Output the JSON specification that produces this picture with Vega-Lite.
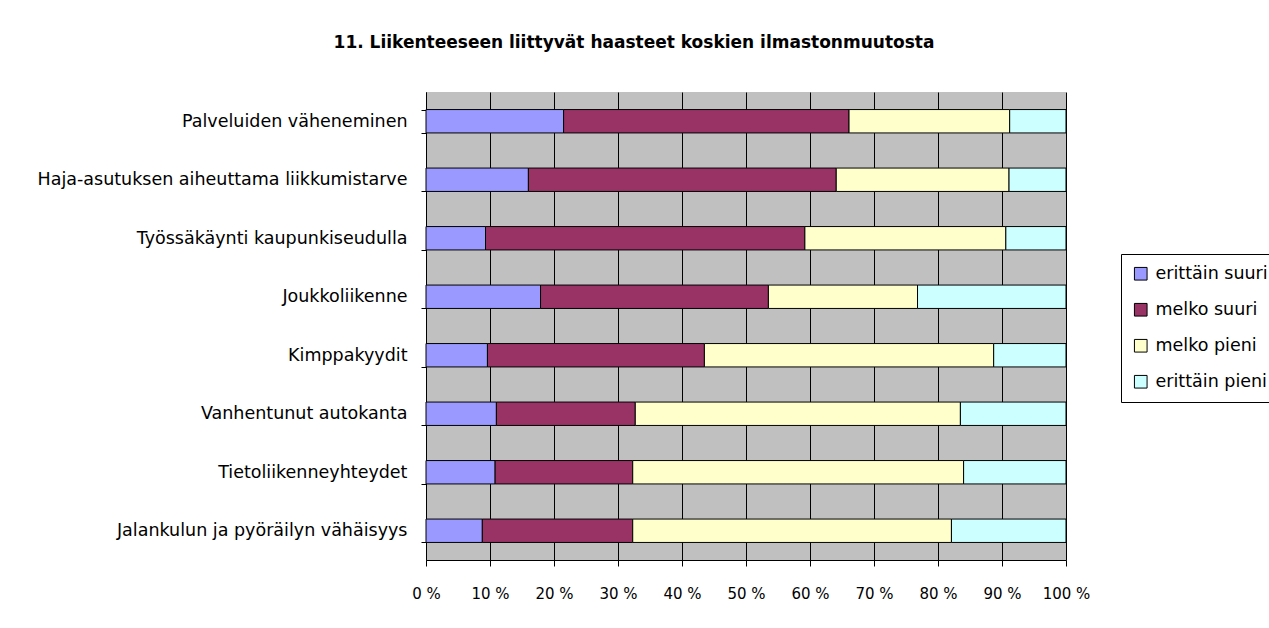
{
  "$schema": "https://vega.github.io/schema/vega-lite/v6.json",
  "autosize": "none",
  "width": 640,
  "height": 468,
  "padding": {"left": 426, "top": 92, "right": 203, "bottom": 68},
  "background": "white",
  "title": {
    "text": "11. Liikenteeseen liittyvät haasteet koskien ilmastonmuutosta",
    "font": "DejaVu Sans",
    "fontSize": 17,
    "fontWeight": "bold",
    "color": "black",
    "anchor": "middle",
    "frame": "group",
    "dx": -112,
    "offset": 31
  },
  "config": {
    "view": {"fill": "#C0C0C0", "stroke": null},
    "font": "DejaVu Sans"
  },
  "data": {
    "values": [
      {"cat": "Palveluiden väheneminen", "level": "erittäin suuri", "k": 1, "v": 21.5},
      {"cat": "Palveluiden väheneminen", "level": "melko suuri", "k": 2, "v": 44.6},
      {"cat": "Palveluiden väheneminen", "level": "melko pieni", "k": 3, "v": 25.1},
      {"cat": "Palveluiden väheneminen", "level": "erittäin pieni", "k": 4, "v": 8.8},
      {"cat": "Haja-asutuksen aiheuttama liikkumistarve", "level": "erittäin suuri", "k": 1, "v": 16.0},
      {"cat": "Haja-asutuksen aiheuttama liikkumistarve", "level": "melko suuri", "k": 2, "v": 48.1},
      {"cat": "Haja-asutuksen aiheuttama liikkumistarve", "level": "melko pieni", "k": 3, "v": 27.0},
      {"cat": "Haja-asutuksen aiheuttama liikkumistarve", "level": "erittäin pieni", "k": 4, "v": 8.9},
      {"cat": "Työssäkäynti kaupunkiseudulla", "level": "erittäin suuri", "k": 1, "v": 9.3},
      {"cat": "Työssäkäynti kaupunkiseudulla", "level": "melko suuri", "k": 2, "v": 49.9},
      {"cat": "Työssäkäynti kaupunkiseudulla", "level": "melko pieni", "k": 3, "v": 31.4},
      {"cat": "Työssäkäynti kaupunkiseudulla", "level": "erittäin pieni", "k": 4, "v": 9.4},
      {"cat": "Joukkoliikenne", "level": "erittäin suuri", "k": 1, "v": 17.9},
      {"cat": "Joukkoliikenne", "level": "melko suuri", "k": 2, "v": 35.6},
      {"cat": "Joukkoliikenne", "level": "melko pieni", "k": 3, "v": 23.3},
      {"cat": "Joukkoliikenne", "level": "erittäin pieni", "k": 4, "v": 23.2},
      {"cat": "Kimppakyydit", "level": "erittäin suuri", "k": 1, "v": 9.6},
      {"cat": "Kimppakyydit", "level": "melko suuri", "k": 2, "v": 33.9},
      {"cat": "Kimppakyydit", "level": "melko pieni", "k": 3, "v": 45.2},
      {"cat": "Kimppakyydit", "level": "erittäin pieni", "k": 4, "v": 11.3},
      {"cat": "Vanhentunut autokanta", "level": "erittäin suuri", "k": 1, "v": 11.0},
      {"cat": "Vanhentunut autokanta", "level": "melko suuri", "k": 2, "v": 21.7},
      {"cat": "Vanhentunut autokanta", "level": "melko pieni", "k": 3, "v": 50.8},
      {"cat": "Vanhentunut autokanta", "level": "erittäin pieni", "k": 4, "v": 16.5},
      {"cat": "Tietoliikenneyhteydet", "level": "erittäin suuri", "k": 1, "v": 10.8},
      {"cat": "Tietoliikenneyhteydet", "level": "melko suuri", "k": 2, "v": 21.5},
      {"cat": "Tietoliikenneyhteydet", "level": "melko pieni", "k": 3, "v": 51.7},
      {"cat": "Tietoliikenneyhteydet", "level": "erittäin pieni", "k": 4, "v": 16.0},
      {"cat": "Jalankulun ja pyöräilyn vähäisyys", "level": "erittäin suuri", "k": 1, "v": 8.8},
      {"cat": "Jalankulun ja pyöräilyn vähäisyys", "level": "melko suuri", "k": 2, "v": 23.5},
      {"cat": "Jalankulun ja pyöräilyn vähäisyys", "level": "melko pieni", "k": 3, "v": 49.8},
      {"cat": "Jalankulun ja pyöräilyn vähäisyys", "level": "erittäin pieni", "k": 4, "v": 17.9}
    ]
  },
  "mark": {"type": "bar", "stroke": "black", "strokeWidth": 1},
  "encoding": {
    "y": {
      "field": "cat",
      "type": "nominal",
      "sort": null,
      "scale": {"paddingInner": 0.6, "paddingOuter": 0.3},
      "axis": {
        "title": null,
        "tickBand": "extent",
        "tickSize": 5,
        "tickColor": "black",
        "domainColor": "black",
        "labelFont": "DejaVu Sans",
        "labelFontSize": 17.5,
        "labelColor": "black",
        "labelPadding": 14,
        "labelLimit": 420
      }
    },
    "x": {
      "field": "v",
      "type": "quantitative",
      "stack": "normalize",
      "scale": {"domain": [0, 1], "nice": false},
      "axis": {
        "title": null,
        "values": [0, 0.1, 0.2, 0.3, 0.4, 0.5, 0.6, 0.7, 0.8, 0.9, 1],
        "labelExpr": "format(datum.value * 100, 'd') + ' %'",
        "grid": true,
        "gridColor": "black",
        "gridOpacity": 1,
        "gridWidth": 1,
        "tickSize": 6,
        "tickColor": "black",
        "domainColor": "black",
        "labelFont": "DejaVu Sans",
        "labelFontSize": 15,
        "labelColor": "black",
        "labelPadding": 20,
        "labelFlush": false
      }
    },
    "color": {
      "field": "level",
      "type": "nominal",
      "sort": ["erittäin suuri", "melko suuri", "melko pieni", "erittäin pieni"],
      "scale": {
        "domain": ["erittäin suuri", "melko suuri", "melko pieni", "erittäin pieni"],
        "range": ["#9999FF", "#993366", "#FFFFCC", "#CCFFFF"]
      },
      "legend": {
        "title": null,
        "orient": "none",
        "legendX": 695,
        "legendY": 162,
        "strokeColor": "black",
        "fillColor": "white",
        "padding": 11,
        "symbolType": "square",
        "symbolSize": 160,
        "symbolStrokeColor": "black",
        "symbolStrokeWidth": 1,
        "symbolOpacity": 1,
        "labelFont": "DejaVu Sans",
        "labelFontSize": 17.5,
        "labelColor": "black",
        "rowPadding": 17,
        "labelOffset": 6
      }
    },
    "order": {"field": "k", "type": "quantitative"}
  }
}
